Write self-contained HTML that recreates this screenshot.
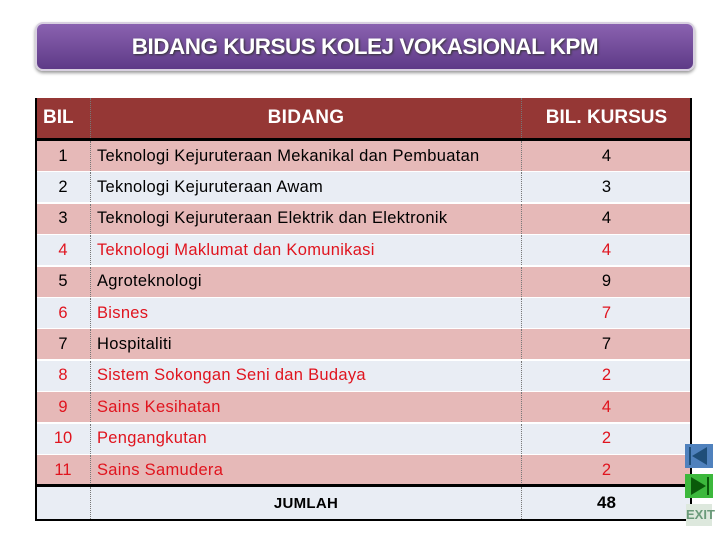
<!DOCTYPE html>
<html><head><meta charset="utf-8"><style>
body{margin:0;width:728px;height:546px;background:#fff;font-family:"Liberation Sans",sans-serif;position:relative;overflow:hidden}
.abs{position:absolute}
#title{left:35px;top:22px;width:656px;height:45px;border-radius:8px;background:linear-gradient(#8a62b0,#5e3a87);border:2px solid #d8d0e0;box-shadow:0 2px 3px #999;color:#fff;font-weight:bold;font-size:22.5px;text-align:center;line-height:45px;text-shadow:1px 1px 2px #333;letter-spacing:-0.5px}
#tbl{left:35px;top:98px;width:657px;height:423px;border:2px solid #000;border-top:none;box-sizing:border-box}
.row{position:absolute;left:0;width:653px;font-size:16.5px}
.row div{position:absolute;top:0;height:100%;display:flex;align-items:center}
.c1{left:0;width:52px;justify-content:center}
.c2{left:53px;width:430px;padding-left:6px;border-left:1px dotted #777;letter-spacing:0.3px}
.c3{left:484px;width:169px;justify-content:center;border-left:1px dotted #777}
.red{color:#e0141e}
</style></head><body>
<div id="title" class="abs">BIDANG KURSUS KOLEJ VOKASIONAL KPM</div>
<div id="tbl" class="abs">
<div class="row" style="top:0;height:40px;background:#953735;color:#fff;font-weight:bold;font-size:19px;border-bottom:3px solid #000;box-sizing:content-box">
<div class="c1" style="justify-content:flex-start;padding-left:6px;width:46px">BIL</div><div class="c2" style="justify-content:center;padding:0">BIDANG</div><div class="c3">BIL. KURSUS</div></div>
<div id="rows"></div>
<div class="row" style="top:386px;height:35px;background:#e9edf4;border-top:3px solid #000;font-weight:bold;box-sizing:border-box">
<div class="c1"></div><div class="c2" style="justify-content:center;padding:0;font-size:15px">JUMLAH</div><div class="c3" style="font-size:17px">48</div></div>
</div>
<div class="abs" style="left:685px;top:444px;width:28px;height:24px;background:#4f81bd"><svg width="28" height="24"><rect x="4" y="3" width="2" height="18" fill="#1f4e79"/><polygon points="22,3 22,21 7,12" fill="#1f4e79"/></svg></div>
<div class="abs" style="left:685px;top:474px;width:28px;height:24px;background:#3cb83c"><svg width="28" height="24"><rect x="22" y="3" width="2" height="18" fill="#0a5a0a"/><polygon points="6,3 6,21 21,12" fill="#0a5a0a"/></svg></div>
<div class="abs" style="left:686px;top:504px;width:26px;height:22px;background:#dde8dd;color:#6a9a7a;font-weight:bold;font-size:13px;text-align:center;line-height:22px">EXIT</div>
<script>
const names=["Teknologi Kejuruteraan Mekanikal dan Pembuatan","Teknologi Kejuruteraan Awam","Teknologi Kejuruteraan Elektrik dan Elektronik","Teknologi Maklumat dan Komunikasi","Agroteknologi","Bisnes","Hospitaliti","Sistem Sokongan Seni dan Budaya","Sains Kesihatan","Pengangkutan","Sains Samudera"];
const counts=[4,3,4,4,9,7,7,2,4,2,2];
const redRows=[false,false,false,true,false,true,false,true,true,true,true];
const wrap=document.getElementById('rows');
names.forEach((n,i)=>{
 const r=document.createElement('div');
 r.className='row'+(redRows[i]?' red':'');
 
 
 r.style.top=(43+i*31.4)+'px';r.style.height='30px';
 r.style.background=i%2==0?'#e6b9b8':'#e9edf4';
 r.style.borderBottom='1.4px solid #fff';
 r.innerHTML='<div class="c1">'+(i+1)+'</div><div class="c2">'+n+'</div><div class="c3">'+counts[i]+'</div>';
 wrap.appendChild(r);
});
</script>
</body></html>
